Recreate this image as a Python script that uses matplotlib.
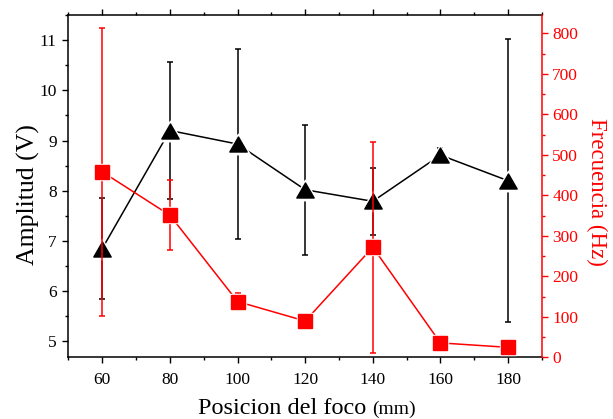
import matplotlib
matplotlib.use("Agg")
import matplotlib.pyplot as plt
from matplotlib.path import Path
from matplotlib.ticker import MultipleLocator

# Focus position (mm)
posicion = [60, 80, 100, 120, 140, 160, 180]

# Amplitude (V) with its uncertainty
amplitud = [6.85, 9.20, 8.93, 8.02, 7.79, 8.71, 8.20]
amplitud_err = [1.00, 1.37, 1.90, 1.29, 0.67, 0.15, 2.82]

# Frequency (Hz) with its uncertainty
frecuencia = [458, 351, 138, 90, 272, 36, 25]
frecuencia_err = [355, 86, 20, 0, 260, 0, 0]

RED = "#ff0000"
plt.rcParams["font.family"] = ["Liberation Serif", "DejaVu Serif"]

# Equilateral-ish up triangle centred on its bounding box
tri = Path([(0, 0.433), (-0.5, -0.433), (0.5, -0.433), (0, 0.433)],
           [Path.MOVETO, Path.LINETO, Path.LINETO, Path.CLOSEPOLY])

W, H = 613, 419
fig = plt.figure(figsize=(W / 100, H / 100), dpi=100)
ax = fig.add_axes([0.1117, 0.1468, 0.7723, 0.8174])
ax2 = ax.twinx()

# --- amplitude series (left axis) ---
ax.errorbar(posicion, amplitud, yerr=amplitud_err, color="black", lw=1.1,
            elinewidth=1.1, capsize=2.5, capthick=1.1, zorder=2)
ax.plot(posicion, amplitud, ls="none", marker=tri, ms=17, color="white", zorder=3)
ax.plot(posicion, amplitud, ls="none", marker=tri, ms=12.5, color="black", zorder=4)

# --- frequency series (right axis) ---
ax2.errorbar(posicion, frecuencia, yerr=frecuencia_err, color=RED, lw=1.1,
             elinewidth=1.1, capsize=2.5, capthick=1.1, zorder=2)
ax2.plot(posicion, frecuencia, ls="none", marker="s", ms=12, color="white", zorder=3)
ax2.plot(posicion, frecuencia, ls="none", marker="s", ms=9.8, color=RED, zorder=4)

ax.set_xlim(50, 190)
ax.set_ylim(4.68, 11.5)
ax2.set_ylim(0, 845)

ax.xaxis.set_major_locator(MultipleLocator(20))
ax.xaxis.set_minor_locator(MultipleLocator(10))
ax.yaxis.set_major_locator(MultipleLocator(1))
ax.yaxis.set_minor_locator(MultipleLocator(0.5))
ax2.yaxis.set_major_locator(MultipleLocator(100))
ax2.yaxis.set_minor_locator(MultipleLocator(50))

ax.tick_params(axis="both", which="both", direction="out", labelsize=12.5,
               top=True, right=False, width=1.0)
ax.tick_params(which="major", length=4.5)
ax.tick_params(which="minor", length=2.5)
ax.tick_params(axis="x", pad=6)
ax.tick_params(axis="y", pad=4)
ax2.tick_params(axis="y", which="both", direction="out", colors=RED,
                labelsize=12.5, width=1.0, pad=3)
ax2.tick_params(which="major", length=4.5)
ax2.tick_params(which="minor", length=2.5)

for sp in ax.spines.values():
    sp.set_linewidth(1.1)
ax.spines["right"].set_visible(False)
for name, sp in ax2.spines.items():
    sp.set_linewidth(1.1)
ax2.spines["right"].set_color(RED)
ax2.spines["left"].set_visible(False)
ax2.spines["top"].set_visible(False)
ax2.spines["bottom"].set_visible(False)

# axis titles
fig.text(28 / W, 1 - 195 / H, "Amplitud (V)", fontsize=18.5, rotation=90,
         ha="center", va="center")
fig.text(597 / W, 1 - 192 / H, "Frecuencia (Hz)", fontsize=16.5, rotation=270,
         ha="center", va="center", color=RED)

# x title: main text plus a smaller unit, centred together
base_y = 1 - 414 / H
t1 = fig.text(0, base_y, "Posicion del foco ", fontsize=17.5, ha="left", va="baseline")
t2 = fig.text(0, base_y, "(mm)", fontsize=14, ha="left", va="baseline")
fig.canvas.draw()
r = fig.canvas.get_renderer()
w1 = t1.get_window_extent(r).width
w2 = t2.get_window_extent(r).width
x0 = 307 - (w1 + w2) / 2
t1.set_x(x0 / W)
t2.set_x((x0 + w1) / W)

fig.savefig("out.png", dpi=100)
